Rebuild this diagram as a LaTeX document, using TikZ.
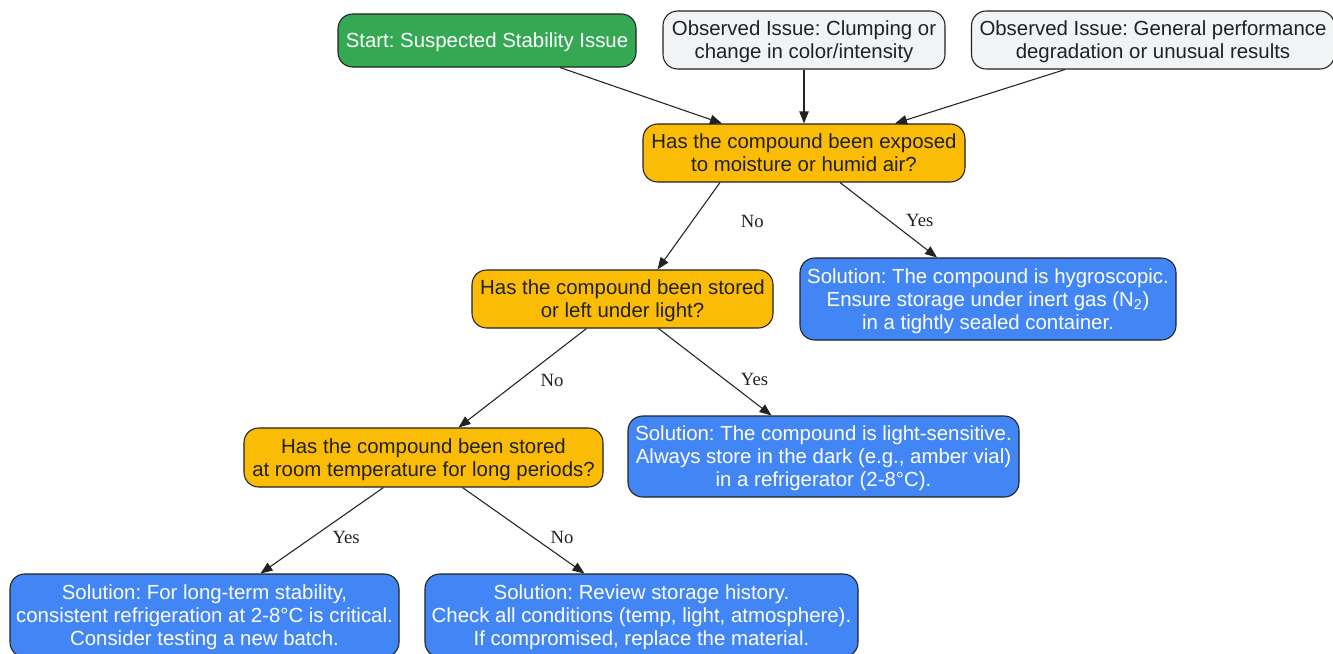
\documentclass[tikz,border=0pt]{standalone}
\usepackage{fontspec}
\setmainfont{Liberation Sans}
\newfontfamily\labelfont{Liberation Serif}
\usetikzlibrary{arrows.meta,calc}
\frenchspacing
\definecolor{gstart}{HTML}{34A853}
\definecolor{gobs}{HTML}{F1F3F4}
\definecolor{gq}{HTML}{FBBC05}
\definecolor{gsol}{HTML}{4285F4}
\definecolor{gtxt}{HTML}{202124}
\definecolor{gedge}{HTML}{222222}
\tikzset{
  box/.style={draw=gedge, line width=0.8pt, rounded corners=11pt, align=center, inner sep=0pt,
    text depth=-4pt, font=\frenchspacing\fontsize{15.3pt}{17.25pt}\selectfont},
  startbox/.style={box, fill=gstart, text=white},
  obsbox/.style={box, fill=gobs, text=gtxt},
  qbox/.style={box, fill=gq, text=gtxt},
  solbox/.style={box, fill=gsol, text=white},
  conn/.style={draw=gedge, line width=0.8pt, -{Triangle[length=9pt,width=7pt]}},
  elabel/.style={font=\labelfont\fontsize{14pt}{16pt}\selectfont, text=gtxt},
}
\begin{document}
\begin{tikzpicture}[x=0.75pt,y=-0.75pt]
\useasboundingbox (0,0) rectangle (1333,653);
\node[startbox, minimum width=223.5pt, minimum height=39.75pt] (start) at (487,40.5) {Start: Suspected Stability Issue};
\node[obsbox, minimum width=211.5pt, minimum height=43.5pt] (obs1) at (804,40) {Observed Issue: Clumping or\\change in color/intensity};
\node[obsbox, minimum width=272.25pt, minimum height=43.5pt] (obs2) at (1153,40) {Observed Issue: General performance\\degradation or unusual results};
\node[qbox, minimum width=241.5pt, minimum height=43.5pt] (q1) at (804,153) {Has the compound been exposed\\to moisture or humid air?};
\node[qbox, minimum width=225.75pt, minimum height=43.5pt] (q2) at (622.5,299) {Has the compound been stored\\or left under light?};
\node[solbox, minimum width=282pt, minimum height=61.5pt] (sol1) at (988,299) {Solution: The compound is hygroscopic.\\Ensure storage under inert gas (N\textsubscript{2})\\in a tightly sealed container.};
\node[qbox, minimum width=269.25pt, minimum height=44.25pt] (q3) at (423.5,457.5) {Has the compound been stored\\at room temperature for long periods?};
\node[solbox, minimum width=293.25pt, minimum height=60.75pt] (sol2) at (823.5,456.5) {Solution: The compound is light-sensitive.\\Always store in the dark (e.g., amber vial)\\in a refrigerator (2-8°C).};
\node[solbox, minimum width=291.75pt, minimum height=62.25pt] (sol3) at (204.5,615.5) {Solution: For long-term stability,\\consistent refrigeration at 2-8°C is critical.\\Consider testing a new batch.};
\node[solbox, minimum width=324.75pt, minimum height=62.25pt] (sol4) at (641.5,615.5) {Solution: Review storage history.\\Check all conditions (temp, light, atmosphere).\\If compromised, replace the material.};

\draw[conn] ($(start.south)+(73,0)$) -- ($(q1.north)+(-82,0)$);
\draw[conn] (obs1.south) -- (q1.north);
\draw[conn] ($(obs2.south)+(-88,0)$) -- ($(q1.north)+(91,0)$);
\draw[conn] ($(q1.south)+(-84,0)$) -- ($(q2.north)+(35,0)$) node[elabel, pos=0.443, xshift=45pt] {No};
\draw[conn] ($(q1.south)+(36,0)$) -- ($(sol1.north)+(-51,0)$) node[elabel, pos=0.513, xshift=22.5pt] {Yes};
\draw[conn] ($(q2.south)+(-36,0)$) -- ($(q3.north)+(35,0)$) node[elabel, pos=0.52, xshift=24pt] {No};
\draw[conn] ($(q2.south)+(36,0)$) -- ($(sol2.north)+(-52,0)$) node[elabel, pos=0.59, xshift=22pt] {Yes};
\draw[conn] ($(q3.south)+(-40,0)$) -- ($(sol3.north)+(56,0)$) node[elabel, pos=0.586, xshift=26pt] {Yes};
\draw[conn] ($(q3.south)+(39,0)$) -- ($(sol4.north)+(-57,0)$) node[elabel, pos=0.586, xshift=21pt] {No};
\end{tikzpicture}
\end{document}
